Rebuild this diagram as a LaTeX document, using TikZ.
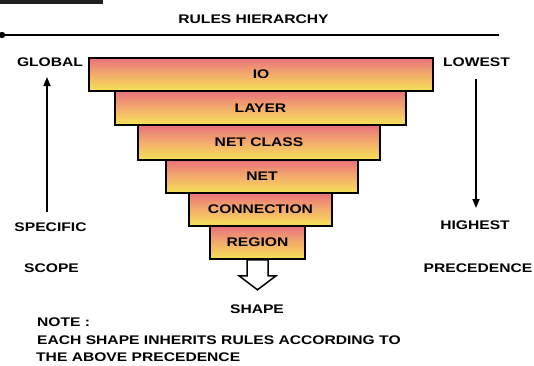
\documentclass[tikz,border=0pt]{standalone}
\usepackage{fontspec}
\setmainfont{Liberation Sans}[FakeStretch=1.25]
\usetikzlibrary{arrows.meta}
\definecolor{tierTop}{HTML}{E8727A}
\definecolor{tierMid}{HTML}{F3AC6C}
\definecolor{tierBot}{HTML}{F6E358}
\begin{document}
\begin{tikzpicture}[x=1pt,y=-1pt,
  font=\fontsize{12.5}{14}\selectfont\bfseries,
  every node/.style={inner sep=0pt},
  tier/.style={draw=black, line width=1.6pt, top color=tierTop, bottom color=tierBot, middle color=tierMid, anchor=center},
  conn/.style={line width=1.6pt, -{Triangle[length=9pt,width=7pt]}},
  bar/.style={line width=1.8pt},
  blockarrow/.style={line width=1.5pt, fill=white, line join=miter}]
\useasboundingbox (0,0) rectangle (534,365);
% top bar and header
\fill[black!88] (0,0) rectangle (103,4);
\node (title) at (253.5,19) {RULES HIERARCHY};
\coordinate (hl) at (2,35);
\coordinate (hr) at (499,35);
\draw[bar] (hl) -- (hr);
\fill (hl) circle (3.2);
% tiers
\node[tier, minimum width=344pt, minimum height=33pt] (io) at (261,74.5) {IO};
\node[tier, minimum width=291pt, minimum height=34pt] (layer) at (260.5,108) {LAYER};
\node[tier, minimum width=242pt, minimum height=35pt] (netclass) at (259,142.5) {NET CLASS};
\node[tier, minimum width=192pt, minimum height=33pt] (net) at (262,176.5) {NET};
\node[tier, minimum width=143pt, minimum height=33pt] (conn) at (260.5,209.5) {CONNECTION};
\node[tier, minimum width=95pt, minimum height=33pt] (rg) at (257.5,242.5) {REGION};
% block arrow
\draw[blockarrow] (rg.south) ++(-10.5,0) -- ++(0,16) -- ++(-8,0) -- ++(18.5,14) -- ++(18.5,-14) -- ++(-8,0) -- ++(0,-16) -- cycle;
\node (shape) at (257,309) {SHAPE};
% side labels
\node (glob) at (50,62.5) {GLOBAL};
\node (low) at (476.5,62) {LOWEST};
\node (spec) at (50.5,227.5) {SPECIFIC};
\node (scope) at (51.5,268) {SCOPE};
\node (high) at (475,225) {HIGHEST};
\node (prec) at (478,268) {PRECEDENCE};
\coordinate (ua0) at (47,212);
\coordinate (ua1) at (47,77);
\coordinate (da0) at (476,79);
\coordinate (da1) at (476,208);
\draw[conn] (ua0) -- (ua1);
\draw[conn] (da0) -- (da1);
% note
\node[anchor=west] (note) at (37,322) {NOTE :};
\node[anchor=west] (note2) at (37,340) {EACH SHAPE INHERITS RULES ACCORDING TO};
\node[anchor=west] (note3) at (36,357) {THE ABOVE PRECEDENCE};
\end{tikzpicture}
\end{document}
